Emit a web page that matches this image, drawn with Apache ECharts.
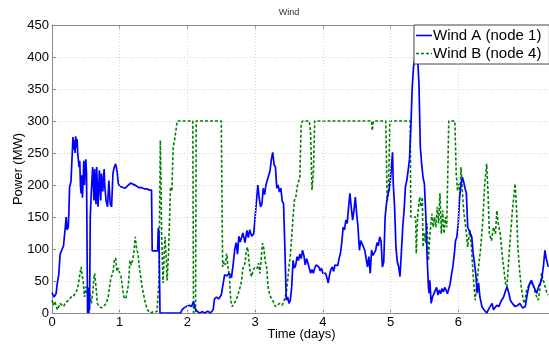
<!DOCTYPE html>
<html>
<head>
<meta charset="utf-8">
<script src="https://cdn.jsdelivr.net/npm/echarts@6/dist/echarts.min.js"></script>
<style>
html,body{margin:0;padding:0;background:#fff;overflow:hidden;}
#chart{width:549px;height:344px;}
</style>
</head>
<body>
<div id="chart"></div>
<script>
// ---- Data (time in days, power in MW) ----
const chartTitle = 'Wind';
const seriesNames = ['Wind A (node 1)', 'Wind B (node 4)'];
const xTickValues = [0, 1, 2, 3, 4, 5, 6];
const yTickMax = 450;

const tA = [0.00,0.03,0.06,0.08,0.10,0.12,0.14,0.17,0.19,0.21,0.22,0.24,0.25,0.26,0.28,0.29,0.31,0.32,0.33,0.34,0.35,0.36,0.37,0.38,0.40,0.41,0.42,0.43,0.44,0.45,0.46,0.47,0.48,0.49,0.50,0.51,
0.52,0.525,0.53,0.535,0.54,0.545,0.55,0.555,0.565,
0.58,0.60,0.62,0.63,0.65,0.66,0.68,0.70,0.72,0.73,0.75,0.77,0.78,0.80,0.82,0.84,0.86,0.88,0.90,0.92,0.94,0.96,0.98,
1.00,1.05,1.08,1.12,1.16,1.20,1.24,1.28,1.32,1.36,1.40,1.44,1.47,1.48,1.52,1.56,1.57,1.58,1.595,
1.90,1.92,1.95,1.98,2.00,2.03,2.06,2.09,2.11,2.14,2.18,2.22,2.26,2.30,2.34,2.38,2.40,2.43,2.46,2.50,2.52,2.55,2.58,2.62,2.65,2.68,2.70,2.72,2.74,2.76,2.78,2.80,2.82,2.85,2.88,2.90,2.92,2.95,2.98,
3.00,3.02,3.04,3.06,3.08,3.10,3.12,3.14,3.16,3.18,3.20,3.22,3.24,3.26,3.28,3.30,3.32,3.34,3.36,3.38,3.40,3.42,3.44,3.46,3.48,3.50,3.52,3.54,3.56,3.58,3.60,3.62,3.64,3.66,3.68,3.70,3.72,3.74,3.76,3.78,3.80,3.82,3.84,3.86,3.88,3.90,3.92,3.94,3.96,3.98,
4.00,4.02,4.04,4.06,4.08,4.10,4.12,4.14,4.16,4.18,4.20,4.22,4.24,4.26,4.28,4.30,4.32,4.34,4.36,4.38,4.40,4.42,4.44,4.46,4.48,4.50,4.52,4.54,4.56,4.58,4.60,4.62,4.64,4.66,4.68,4.70,4.72,4.74,4.76,4.78,4.80,4.82,4.84,4.86,4.88,4.90,4.92,4.94,4.96,4.98,
5.00,5.02,5.03,5.04,5.06,5.08,5.10,5.12,5.14,5.16,5.18,5.20,5.22,5.24,5.26,5.28,5.30,5.32,5.34,5.36,5.38,5.40,5.42,5.44,5.46,5.48,5.50,5.52,5.54,5.56,5.57,5.58,5.60,5.62,5.64,5.66,5.68,5.70,5.72,5.74,5.76,5.78,5.80,5.82,5.84,5.86,5.88,5.90,5.92,5.94,5.96,5.98,
6.00,6.02,6.04,6.06,6.08,6.10,6.12,6.14,6.16,6.18,6.20,6.22,6.24,6.26,6.28,6.30,6.32,6.35,6.38,6.42,6.46,6.50,6.52,6.54,6.57,6.60,6.63,6.67,6.70,6.72,6.75,6.77,6.80,6.84,6.88,6.91,6.95,6.99,
7.02,7.05,7.08,7.12,7.16,7.19,7.23,7.26,7.28,7.30,7.33];
const vA = [32,25,30,48,60,92,93,105,103,150,130,134,160,197,205,228,275,255,270,250,276,258,272,249,228,238,200,187,215,180,207,238,200,225,240,218,
218,0,35,0,40,0,35,5,150,
187,228,176,225,170,228,166,223,176,218,190,225,197,175,166,207,170,166,218,228,233,222,202,
198,196,195,199,203,201,199,196,196,194,194,192,192,97,97,97,133,125,0,
0,5,8,10,8,12,10,18,8,3,0,2,0,3,0,5,22,25,22,28,25,60,58,62,55,80,100,110,92,120,111,113,125,110,129,118,130,120,124,
150,175,200,180,166,170,195,185,200,202,215,222,240,251,232,228,195,200,189,195,175,171,100,20,25,15,20,40,82,70,75,88,82,92,85,98,90,75,85,78,70,62,68,62,70,75,78,72,66,70,
62,60,62,55,47,60,68,72,65,75,78,74,85,93,110,134,130,145,140,165,187,165,145,160,181,155,134,98,113,108,103,98,95,72,88,62,98,90,93,98,110,105,119,112,72,80,150,171,185,192,
210,238,251,202,165,103,80,72,57,95,134,160,197,207,223,240,290,352,385,399,400,398,358,259,233,212,202,155,88,40,31,51,15,25,30,33,40,28,36,30,38,33,40,36,30,38,45,60,72,90,113,119,
140,181,200,212,205,195,187,134,129,124,119,93,78,60,31,47,25,10,5,0,8,15,5,5,12,10,18,25,35,41,30,20,15,10,12,15,8,10,
30,45,51,40,31,42,51,75,98,85,72];

const tB = [0.00,0.02,0.04,0.06,0.08,0.10,0.12,0.14,0.17,0.19,0.22,0.25,0.28,0.31,0.34,0.37,0.39,0.41,0.43,0.44,0.45,0.46,0.48,0.50,0.52,0.54,0.56,0.58,0.60,0.62,0.63,0.65,0.67,0.70,0.73,0.76,0.80,0.83,0.85,0.87,0.90,0.92,0.94,0.96,0.98,
1.00,1.02,1.04,1.06,1.09,1.11,1.13,1.15,1.17,1.19,1.21,1.23,1.25,1.27,1.29,1.31,1.33,1.36,1.38,1.41,1.45,1.50,1.55,1.58,1.59,1.60,1.61,1.62,1.64,1.66,1.67,1.69,1.70,1.72,1.74,1.75,1.77,1.79,1.81,1.83,1.85,
2.08,2.09,2.12,2.13,2.50,2.52,2.54,2.56,2.58,2.60,2.62,2.64,2.66,2.69,2.72,2.75,2.78,2.80,2.82,2.85,2.87,2.89,2.91,2.93,2.95,2.97,
3.00,3.03,3.05,3.07,3.09,3.11,3.13,3.15,3.17,3.19,3.21,3.23,3.26,3.30,3.33,3.36,3.40,3.43,3.46,3.48,3.50,3.52,3.54,3.56,3.58,3.60,3.62,3.64,3.66,3.68,3.70,3.80,3.82,3.84,3.86,3.88,
4.72,4.73,4.74,4.75,4.93,4.95,4.97,4.99,
5.29,5.30,5.37,5.38,5.40,5.43,5.45,5.47,5.48,5.50,5.52,5.54,5.56,5.58,5.61,5.63,5.65,5.67,5.69,5.71,5.73,5.75,5.77,5.79,5.81,5.83,5.85,5.86,5.95,5.97,5.99,
6.01,6.03,6.04,6.06,6.08,6.11,6.14,6.17,6.19,6.22,6.25,6.27,6.30,6.33,6.36,6.39,6.42,6.44,6.46,6.49,6.52,6.55,6.57,6.59,6.62,6.65,6.67,6.70,6.72,6.75,6.77,6.80,6.82,6.84,6.86,6.88,6.91,6.93,6.96,6.98,
7.01,7.05,7.10,7.14,7.18,7.21,7.23,7.26,7.28,7.31,7.33];
const vB = [20,12,18,15,5,8,15,12,10,14,18,20,25,25,30,36,45,60,72,75,55,51,25,41,30,35,31,15,30,55,62,41,15,10,8,10,15,25,41,55,62,82,86,65,70,
62,57,40,25,22,20,45,82,75,82,95,119,100,93,72,57,41,25,15,5,0,2,2,50,166,270,200,119,47,100,119,80,51,90,160,197,190,259,270,285,300,
300,0,0,300,300,72,80,75,93,72,57,20,10,15,20,30,41,51,70,78,98,103,80,62,57,67,
72,70,78,62,85,109,100,80,72,41,31,25,20,10,12,15,12,20,31,50,72,90,119,150,176,180,197,200,212,296,300,300,280,192,218,300,
300,285,295,300,300,175,190,300,
300,150,150,93,150,181,166,181,103,125,110,140,82,120,155,134,150,134,166,140,187,124,160,124,150,134,134,300,300,218,190,
202,187,228,192,160,134,103,130,110,60,20,40,72,100,140,200,233,187,124,113,134,124,160,140,124,90,72,45,41,90,119,160,181,202,166,103,62,41,20,15,
36,45,47,30,20,40,62,50,47,31,28];

const zip = (t, v) => t.map((x, i) => [x, v[i]]);

const el = document.getElementById('chart');
const chart = echarts.init(el, null, {renderer: 'canvas', width: 549, height: 344});
const axisGray = '#8c8c8c';
const font = 'Liberation Sans, Arial, sans-serif';
const solidIcon = 'path://M0,0h16v1.6h-16z';
const dashIcon = 'path://M0,0h3v1.6h-3z M5,0h3v1.6h-3z M10,0h3v1.6h-3z M15,0h1v1.6h-1z';

chart.setOption({
  animation: false,
  backgroundColor: '#ffffff',
  graphic: [{
    type: 'text', x: 289, y: 13, silent: true,
    style: {text: chartTitle, fontSize: 9, fill: '#333', fontFamily: font, align: 'center', verticalAlign: 'middle'}
  }],
  legend: {
    data: [{name: seriesNames[0], icon: solidIcon}, {name: seriesNames[1], icon: dashIcon}],
    orient: 'vertical', left: 414, top: 25,
    padding: [3, 8, 3, 2], itemGap: 3, itemWidth: 16, itemHeight: 2,
    backgroundColor: '#fff', borderColor: '#444', borderWidth: 1, borderRadius: 0,
    textStyle: {fontSize: 15, color: '#000', fontFamily: font, padding: [0, 0, 0, -4]}
  },
  grid: {left: 52, right: -2, top: 25, bottom: 31, containLabel: false, outerBoundsMode: 'none'},
  xAxis: [{
    type: 'value', min: 0, max: 7.37, interval: 1,
    name: 'Time (days)', nameLocation: 'middle', nameGap: 15, nameMoveOverlap: false,
    nameTextStyle: {fontSize: 13, color: '#000', fontFamily: font},
    axisLine: {show: true, lineStyle: {color: axisGray, width: 1}},
    axisTick: {show: true, inside: true, length: 4, lineStyle: {color: axisGray}, customValues: xTickValues},
    axisLabel: {fontSize: 13, color: '#000', fontFamily: font, margin: 3, customValues: xTickValues,
      formatter: v => (v <= 6 ? String(v) : '')},
    splitLine: {show: false}
  }, {
    type: 'value', min: 0, max: 7.37, interval: 1, position: 'top',
    axisLine: {show: true, onZero: false, lineStyle: {color: axisGray, width: 1}},
    axisTick: {show: true, inside: true, length: 4, lineStyle: {color: axisGray}, customValues: xTickValues},
    axisLabel: {show: false},
    splitLine: {show: false}
  }],
  yAxis: {
    type: 'value', min: 0, max: yTickMax, interval: 50,
    name: 'Power (MW)', nameLocation: 'middle', nameGap: 27, nameRotate: 90, nameMoveOverlap: false,
    nameTextStyle: {fontSize: 13, color: '#000', fontFamily: font},
    axisLine: {show: true, lineStyle: {color: axisGray, width: 1}},
    axisTick: {show: true, inside: true, length: 4, lineStyle: {color: axisGray}},
    axisLabel: {fontSize: 13, color: '#000', fontFamily: font, margin: 3},
    splitLine: {show: true, lineStyle: {color: '#d4d4d4', width: 1, type: [1, 2]}}
  },
  series: [
    {
      name: 'grid-x', type: 'line', data: [], z: 1, silent: true,
      markLine: {
        silent: true, symbol: 'none', label: {show: false}, animation: false,
        lineStyle: {color: '#d4d4d4', width: 1, type: [1, 2]},
        data: xTickValues.filter(v => v > 0).map(v => ({xAxis: v}))
      }
    },
    {
      name: seriesNames[0], type: 'line', data: zip(tA, vA), z: 3,
      showSymbol: false, symbol: 'none',
      lineStyle: {color: '#0000ff', width: 1.7},
      itemStyle: {color: '#0000ff'}
    },
    {
      name: seriesNames[1], type: 'line', data: zip(tB, vB), z: 2,
      showSymbol: false, symbol: 'none',
      lineStyle: {color: '#008000', width: 1.6, type: [3, 2]},
      itemStyle: {color: '#008000'}
    }
  ]
});
</script>
</body>
</html>
